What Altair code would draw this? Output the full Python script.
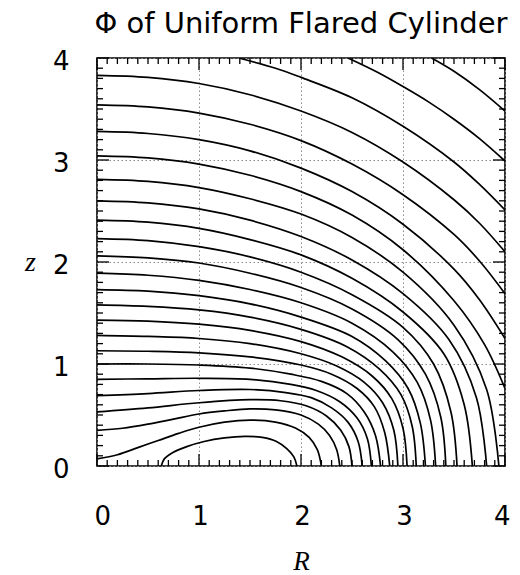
import altair as alt
import pandas as pd

# ---------------- contour lines, (R, z) pairs ----------------
c_inner = [(0.63, 0.00), (0.66, 0.07), (0.74, 0.13), (0.88, 0.19), (1.05, 0.24), (1.25, 0.275),
           (1.45, 0.29), (1.62, 0.28), (1.76, 0.24), (1.86, 0.17), (1.93, 0.09), (1.96, 0.00)]
c01 = [(0.0, 0.07), (0.2, 0.11), (0.4, 0.18), (0.6, 0.25), (0.8, 0.32), (1.0, 0.38), (1.25, 0.43),
       (1.5, 0.45), (1.75, 0.43), (1.95, 0.37), (2.08, 0.28), (2.16, 0.16), (2.20, 0.00)]
c02 = [(0.0, 0.35), (0.25, 0.37), (0.5, 0.41), (0.75, 0.46), (1.0, 0.51), (1.25, 0.54), (1.5, 0.56),
       (1.75, 0.55), (2.0, 0.50), (2.17, 0.41), (2.28, 0.30), (2.35, 0.16), (2.38, 0.00)]
c03 = [(0.0, 0.53), (0.5, 0.57), (1.0, 0.62), (1.5, 0.65), (1.8, 0.64), (2.05, 0.59), (2.25, 0.49),
       (2.39, 0.35), (2.47, 0.19), (2.50, 0.00)]
c04 = [(0.0, 0.69), (0.5, 0.71), (1.0, 0.74), (1.5, 0.75), (1.85, 0.72), (2.1, 0.67), (2.3, 0.57),
       (2.46, 0.43), (2.56, 0.24), (2.60, 0.00)]
c05 = [(0.0, 0.85), (0.5, 0.855), (1.0, 0.86), (1.5, 0.85), (1.9, 0.80), (2.15, 0.74), (2.38, 0.63),
       (2.55, 0.47), (2.65, 0.27), (2.69, 0.00)]
c06 = [(0.0, 1.00), (0.5, 1.00), (1.0, 0.99), (1.5, 0.96), (1.9, 0.90), (2.2, 0.83), (2.45, 0.71),
       (2.62, 0.53), (2.73, 0.30), (2.78, 0.00)]
c07 = [(0.0, 1.13), (0.5, 1.125), (1.0, 1.11), (1.5, 1.07), (2.0, 0.99), (2.3, 0.90), (2.55, 0.76),
       (2.72, 0.58), (2.82, 0.33), (2.87, 0.00)]
c08 = [(0.0, 1.28), (0.5, 1.27), (1.0, 1.25), (1.5, 1.20), (2.0, 1.10), (2.35, 0.98), (2.62, 0.82),
       (2.80, 0.62), (2.91, 0.35), (2.95, 0.00)]
c09 = [(0.0, 1.43), (0.5, 1.42), (1.0, 1.39), (1.5, 1.33), (2.0, 1.22), (2.4, 1.07), (2.7, 0.88),
       (2.89, 0.66), (3.00, 0.37), (3.04, 0.00)]
c10 = [(0.0, 1.58), (0.5, 1.565), (1.0, 1.53), (1.5, 1.46), (2.0, 1.34), (2.45, 1.17), (2.77, 0.95),
       (2.98, 0.70), (3.09, 0.39), (3.13, 0.00)]
c11 = [(0.0, 1.73), (0.5, 1.715), (1.0, 1.67), (1.5, 1.59), (2.0, 1.46), (2.5, 1.27), (2.83, 1.03),
       (3.05, 0.76), (3.17, 0.42), (3.22, 0.00)]
c12 = [(0.0, 1.89), (0.5, 1.87), (1.0, 1.82), (1.5, 1.73), (2.0, 1.60), (2.5, 1.40), (2.9, 1.12),
       (3.14, 0.82), (3.27, 0.45), (3.32, 0.00)]
c13 = [(0.0, 2.06), (0.5, 2.04), (1.0, 1.99), (1.5, 1.89), (2.0, 1.75), (2.5, 1.54), (2.95, 1.24),
       (3.22, 0.90), (3.37, 0.48), (3.42, 0.00)]
c14 = [(0.0, 2.23), (0.5, 2.21), (1.0, 2.15), (1.5, 2.05), (2.0, 1.90), (2.5, 1.68), (3.0, 1.36),
       (3.3, 1.00), (3.47, 0.53), (3.53, 0.00)]
c15 = [(0.0, 2.41), (0.5, 2.39), (1.0, 2.33), (1.5, 2.22), (2.0, 2.07), (2.5, 1.84), (3.0, 1.51),
       (3.4, 1.10), (3.60, 0.60), (3.68, 0.00)]
c16 = [(0.0, 2.60), (0.5, 2.58), (1.0, 2.52), (1.5, 2.41), (2.0, 2.25), (2.5, 2.02), (3.0, 1.69),
       (3.45, 1.24), (3.72, 0.67), (3.82, 0.00)]
c17 = [(0.0, 2.81), (0.5, 2.79), (1.0, 2.73), (1.5, 2.62), (2.0, 2.47), (2.5, 2.24), (3.0, 1.90),
       (3.5, 1.38), (3.82, 0.75), (3.94, 0.00)]
c18 = [(0.0, 3.04), (0.5, 3.02), (1.0, 2.96), (1.5, 2.85), (2.0, 2.69), (2.5, 2.46), (3.0, 2.12),
       (3.5, 1.62), (3.8, 1.19), (4.0, 0.76)]
c19 = [(0.0, 3.28), (0.5, 3.26), (1.0, 3.20), (1.5, 3.09), (2.0, 2.92), (2.5, 2.69), (3.0, 2.37),
       (3.5, 1.93), (3.75, 1.63), (4.0, 1.25)]
c20 = [(0.0, 3.54), (0.5, 3.52), (1.0, 3.46), (1.5, 3.35), (2.0, 3.19), (2.5, 2.96), (3.0, 2.66),
       (3.5, 2.27), (3.75, 2.01), (4.0, 1.69)]
c21 = [(0.0, 3.83), (0.5, 3.81), (1.0, 3.75), (1.5, 3.64), (2.0, 3.48), (2.5, 3.27), (3.0, 2.98),
       (3.5, 2.61), (3.75, 2.38), (4.0, 2.10)]
c22 = [(1.39, 4.00), (1.75, 3.90), (2.0, 3.81), (2.5, 3.61), (3.0, 3.33), (3.5, 2.98), (3.75, 2.76),
       (4.0, 2.51)]
c23 = [(2.46, 4.00), (2.75, 3.86), (3.0, 3.72), (3.25, 3.57), (3.5, 3.40), (3.75, 3.21), (4.0, 2.99)]
c24 = [(3.28, 4.00), (3.5, 3.87), (3.75, 3.69), (4.0, 3.48)]

contours = [("inner", c_inner), ("c01", c01), ("c02", c02), ("c03", c03), ("c04", c04),
            ("c05", c05), ("c06", c06), ("c07", c07), ("c08", c08), ("c09", c09),
            ("c10", c10), ("c11", c11), ("c12", c12), ("c13", c13), ("c14", c14),
            ("c15", c15), ("c16", c16), ("c17", c17), ("c18", c18), ("c19", c19),
            ("c20", c20), ("c21", c21), ("c22", c22), ("c23", c23), ("c24", c24)]

# axis ticks
major_ticks = [0, 1, 2, 3, 4]
minor_ticks = [round(0.1 * k, 1) for k in range(41) if k % 10 != 0]

title_text = "Φ of Uniform Flared Cylinder"

# ---------------- build table ----------------
rows = []
for name, pts in contours:
    for i, (r, z) in enumerate(pts):
        rows.append({"c": name, "i": i, "R": r, "z": z})
df = pd.DataFrame(rows)

W = 408
H = 408
MINOR = 6
MAJOR = 12

xs = alt.Scale(domain=[0, 4], nice=False, zero=False)
ys = alt.Scale(domain=[0, 4], nice=False, zero=False)

x_axis = alt.Axis(values=major_ticks, format="d", grid=True, gridColor="#8c8c8c",
                  gridDash=[1.5, 2.5], gridWidth=1, ticks=False, tickSize=0, domain=False,
                  labelFont="DejaVu Sans", labelFontSize=26, labelColor="black",
                  labelPadding=37, labelOffset=1, labelFlush=True, labelFlushOffset=4,
                  title="R", titleFont="Liberation Serif", titleFontStyle="italic",
                  titleFontWeight="normal", titleFontSize=27, titleColor="black",
                  titleX=W / 2, titleY=103, titleAlign="center", titleBaseline="alphabetic")
y_axis = alt.Axis(values=major_ticks, format="d", grid=True, gridColor="#8c8c8c",
                  gridDash=[1.5, 2.5], gridWidth=1, ticks=False, tickSize=0, domain=False,
                  labelFont="DejaVu Sans", labelFontSize=26, labelColor="black",
                  labelPadding=28, labelFlush=False, labelOffset=3,
                  title="z", titleFont="Liberation Serif", titleFontStyle="italic",
                  titleFontWeight="normal", titleFontSize=28, titleColor="black",
                  titleAngle=0, titleX=-67, titleY=H / 2, titleAlign="center",
                  titleBaseline="middle")

lines = alt.Chart(df).mark_line(color="black", strokeWidth=1.7, interpolate="catmull-rom",
                                clip=True).encode(
    x=alt.X("R:Q", scale=xs, axis=x_axis),
    y=alt.Y("z:Q", scale=ys, axis=y_axis),
    detail="c:N",
    order="i:Q",
)

mx = pd.DataFrame({"R": minor_ticks})
Mx = pd.DataFrame({"R": major_ticks})
my = pd.DataFrame({"z": minor_ticks})
My = pd.DataFrame({"z": major_ticks})


def xtick(d, a, b):
    return alt.Chart(d).mark_rule(color="black", strokeWidth=1.3).encode(
        x=alt.X("R:Q", scale=xs, axis=x_axis), y=alt.value(a), y2=alt.value(b))


def ytick(d, a, b):
    return alt.Chart(d).mark_rule(color="black", strokeWidth=1.3).encode(
        y=alt.Y("z:Q", scale=ys, axis=y_axis), x=alt.value(a), x2=alt.value(b))


layers = [
    lines,
    xtick(mx, H, H - MINOR), xtick(mx, 0, MINOR),
    xtick(Mx, H, H - MAJOR), xtick(Mx, 0, MAJOR),
    ytick(my, 0, MINOR), ytick(my, W, W - MINOR),
    ytick(My, 0, MAJOR), ytick(My, W, W - MAJOR),
]

chart = alt.layer(*layers).properties(
    width=W, height=H,
    padding={"left": 16, "top": 2, "right": 0, "bottom": 0},
    title=alt.TitleParams(text=title_text, font="DejaVu Sans", fontSize=29,
                          fontWeight="normal", color="black", anchor="middle", offset=9),
).configure_view(stroke="black", strokeWidth=1.6)

chart.save("out.html", embed_options={"renderer": "svg", "actions": False})
